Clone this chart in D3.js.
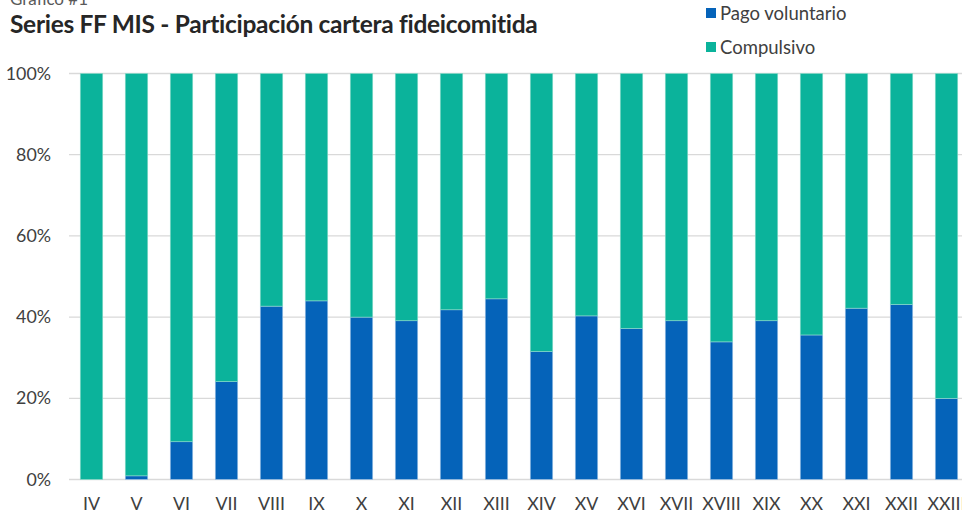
<!DOCTYPE html>
<html><head><meta charset="utf-8">
<script src="https://cdn.jsdelivr.net/npm/d3@7"></script>
<style>body{margin:0;background:#fff;overflow:hidden}svg{display:block;font-family:Lato,"Open Sans",sans-serif}</style>
</head><body><svg id="c" width="962" height="515"></svg>
<script>
const categories = ["IV","V","VI","VII","VIII","IX","X","XI","XII","XIII","XIV","XV","XVI","XVII","XVIII","XIX","XX","XXI","XXII","XXIII"];
const pagoVoluntario = [0,0.9,9.3,24.1,42.7,44.0,40.0,39.1,41.8,44.5,31.5,40.3,37.2,39.1,33.9,39.1,35.6,42.2,43.1,20.0];
const compulsivo = pagoVoluntario.map(v => 100 - v);
const yTicks = [0,20,40,60,80,100];
const seriesNames = ["Pago voluntario","Compulsivo"];
const colors = ["#0563b9","#0bb39b"];

const svg = d3.select("#c");
const x = d3.scaleBand().domain(categories).range([69,969]).paddingInner(0.5).paddingOuter(0.25);
const y = d3.scaleLinear().domain([0,100]).range([479.5,73.5]);

// gridlines
svg.append("g").selectAll("line").data(yTicks).join("line")
  .attr("x1",69).attr("x2",962).attr("y1",d=>y(d)).attr("y2",d=>y(d))
  .attr("stroke","#d9d9d9").attr("stroke-width",1.3);

// y labels
svg.append("g").selectAll("text").data(yTicks).join("text")
  .attr("x",51).attr("y",d=>y(d)+6).attr("text-anchor","end")
  .attr("font-size",17.8).attr("fill","#404040").text(d=>d+"%");

const data = categories.map((c,i)=>({c, vals:[pagoVoluntario[i], compulsivo[i]]}));
const stack = data.map(d=>{let acc=0;return d.vals.map((v,k)=>{const s={c:d.c,y0:acc,y1:acc+v,k};acc+=v;return s;});}).flat();

svg.append("g").selectAll("rect").data(stack.filter(s=>s.y1>s.y0)).join("rect")
  .attr("x",d=>x(d.c)).attr("width",x.bandwidth())
  .attr("y",d=>y(d.y1)).attr("height",d=>y(d.y0)-y(d.y1))
  .attr("fill",d=>colors[d.k]).attr("stroke",d=>d.k===0?"#a9c8ea":"#8fdccb").attr("stroke-width",0.6);

// x labels
svg.append("g").selectAll("text").data(categories).join("text")
  .attr("x",d=>x(d)+x.bandwidth()/2).attr("y",510).attr("text-anchor","middle")
  .attr("font-size",17.8).attr("fill","#404040").text(d=>d);

// titles
svg.append("text").attr("x",10).attr("y",5).attr("font-size",17).attr("fill","#595959").text("Grafico #1");
svg.append("text").attr("x",10).attr("y",33).attr("font-size",24.5).attr("font-weight","bold").attr("fill","#262626")
  .attr("letter-spacing","-0.3").text("Series FF MIS - Participación cartera fideicomitida");

// legend
const lg = svg.append("g").selectAll("g").data(seriesNames).join("g")
  .attr("transform",(d,i)=>`translate(706,${8+i*34})`);
lg.append("rect").attr("width",10).attr("height",10).attr("fill",(d,i)=>colors[i]);
lg.append("text").attr("x",14).attr("y",12).attr("font-size",18.5).attr("fill","#404040").text(d=>d);
</script></body></html>
